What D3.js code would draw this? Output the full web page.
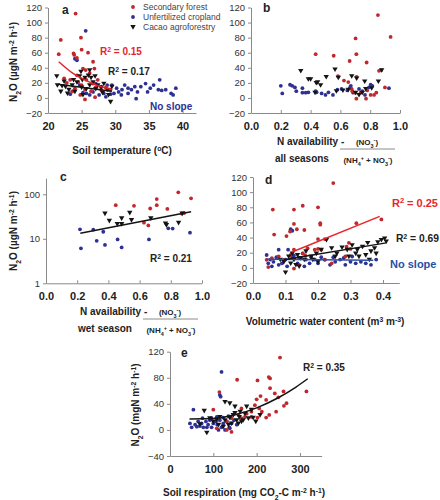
<!DOCTYPE html>
<html><head><meta charset="utf-8">
<script src="https://cdn.jsdelivr.net/npm/d3@7"></script>
<style>body{margin:0;background:#fff}svg{display:block;font-family:"Liberation Sans",Arial,sans-serif}</style>
</head><body><svg id="c" width="440" height="500"></svg>
<script>
// ---------- data ----------
const seriesNames = ["Secondary forest", "Unfertilized cropland", "Cacao agroforestry"];

// panel a: soil temperature (°C) vs N2O
const aForest = [[24.1,112],[21.9,77],[21.6,58],[24.9,80],[25.0,64],[25.95,60],[23.8,59],[23.9,57],[26.7,48],[24.3,53],[25.2,39],[25.6,37],[26.2,33],[26.9,39],[22.4,26],[22.8,20],[23.3,24],[24.3,30],[24.5,21],[25.0,17],[25.7,24],[26.7,19],[27.4,24],[24.0,13],[25.5,11],[26.4,9],[27.1,14],[27.9,11],[28.6,14],[29.3,11],[25.5,-2],[27.0,1],[23.6,8.5],[24.8,4]];
const aCrop = [[25.6,89],[24.3,50],[24.0,52],[24.7,17],[25.7,6],[26.7,8],[27.1,19],[27.9,15],[28.3,6],[28.8,17],[29.0,11],[29.5,17],[29.8,6],[30.2,13],[30.5,8],[31.0,11],[31.4,17],[31.9,6],[32.4,11],[32.9,15],[33.1,-1],[33.3,8],[33.8,15],[34.5,19],[34.8,8],[35.2,13],[35.7,17],[36.6,24],[36.4,11],[36.9,10],[37.5,11],[38.3,6],[38.6,4],[39.0,13],[25.2,7],[26.2,4],[27.6,4],[28.6,1.5],[29.3,5],[23.3,5],[31.9,13],[30.9,4]];
const aCacao = [[21.3,29],[21.4,17],[22.1,16],[21.9,8.5],[22.6,15],[23.1,11],[23.6,17],[23.8,24],[24.3,21],[24.7,29],[24.9,35],[25.1,24],[25.5,27],[26.0,30],[26.2,37],[26.4,27],[26.7,21],[27.0,29],[27.4,17],[27.9,14],[28.3,19],[28.8,11],[29.3,-5],[29.5,15],[24.0,8.5],[22.9,6],[25.7,12],[27.1,12],[28.1,7],[22.4,22],[25.0,14],[26.2,17],[29.0,4],[25.2,4]];
const aForestFit = [[21.6,48],[23.5,34],[25.5,24],[27.5,16],[29.5,11]];
const aCacaoFit = [[21.5,18],[29.5,9]];
const aXTicks = [20,25,30,35,40];
const aYTicks = [-20,0,20,40,60,80,100,120];

// panel b: N availability (all seasons) vs N2O
const bForest = [[0.434,58],[0.555,56],[0.662,49],[0.702,79],[0.707,58],[0.776,47],[0.852,110],[0.937,81],[0.874,37],[0.859,36],[0.584,29],[0.624,23],[0.653,21],[0.709,28],[0.676,12],[0.70,7],[0.707,-1],[0.772,-1],[0.803,4],[0.826,4],[0.841,7],[0.899,14],[0.78,10],[0.68,9],[0.736,7]];
const bCrop = [[0.2,16],[0.21,6],[0.262,17.5],[0.277,16],[0.295,14],[0.304,9],[0.345,13],[0.345,7],[0.367,7],[0.385,7.5],[0.434,9],[0.44,7.5],[0.474,6],[0.5,4],[0.52,7.5],[0.55,4],[0.58,11],[0.608,12],[0.647,10],[0.665,14],[0.685,7],[0.725,12],[0.747,9],[0.765,4],[0.792,14],[0.803,17.5],[0.814,16],[0.926,13],[0.67,16]];
const bCacao = [[0.334,36],[0.385,25],[0.40,25],[0.438,20],[0.447,21],[0.505,28],[0.564,38],[0.586,27],[0.653,11],[0.676,29],[0.709,26],[0.763,22],[0.81,13],[0.855,22],[0.877,37],[0.467,17],[0.77,12],[0.747,7],[0.725,4],[0.702,7],[0.617,10],[0.573,9],[0.43,7]];
const bXTicks = [0,0.2,0.4,0.6,0.8,1.0];

// panel c: N availability (wet season) vs N2O (log)
const cForest = [[0.447,57],[0.564,55],[0.668,48],[0.71,78],[0.71,57],[0.778,47],[0.848,111],[0.93,81],[0.87,37],[0.885,38],[0.628,23],[0.656,20]];
const cCrop = [[0.218,16.3],[0.224,6.1],[0.303,16],[0.325,9],[0.367,14.4],[0.378,7.3],[0.459,9.7],[0.485,6.4],[0.66,9.7],[0.784,17.2],[0.812,17],[0.923,13.7]];
const cCacao = [[0.378,37],[0.406,25.5],[0.457,21.5],[0.485,29],[0.485,21.5],[0.537,38.6],[0.548,26.5],[0.672,29],[0.766,22.3],[0.772,20.5],[0.85,23],[0.873,37]];
const cAllFit = [[0.22,13.3],[0.93,40.7]];
const cYTicks = [1,10,100];

// panel d: volumetric water content vs N2O
const dForest = [[0.061,77],[0.126,77],[0.247,112],[0.153,82],[0.2,80],[0.207,59],[0.207,57],[0.126,58],[0.114,48],[0.135,51],[0.158,50],[0.065,44],[0.103,42],[0.221,38],[0.2,38],[0.318,59],[0.295,33],[0.288,28],[0.395,64],[0.30,25],[0.168,26],[0.19,24],[0.2,25],[0.21,24],[0.153,19],[0.126,24],[0.116,17],[0.079,15],[0.042,10.6],[0.058,12.8],[0.095,10.6],[0.047,1],[0.221,10.6],[0.242,6],[0.284,15],[0.142,4],[0.126,-1],[0.161,16]];
const dCrop = [[0.042,17],[0.047,6],[0.053,11],[0.063,8],[0.072,14],[0.079,24],[0.089,6],[0.1,11],[0.108,24],[0.121,14],[0.137,6],[0.153,19],[0.163,11],[0.174,6],[0.19,11],[0.2,6],[0.221,11],[0.237,4],[0.253,8],[0.268,11],[0.284,4],[0.3,8],[0.316,6],[0.332,8],[0.347,6],[0.363,4],[0.379,11],[0.116,51],[0.121,49],[0.126,16],[0.142,13],[0.079,4],[0.058,2],[0.105,2],[0.179,14],[0.21,14],[0.247,14],[0.279,13],[0.305,15],[0.158,2]];
const dCacao = [[0.1,-6],[0.084,11],[0.11,15],[0.121,19],[0.137,17],[0.147,13],[0.163,22],[0.179,15],[0.195,19],[0.21,24],[0.226,37],[0.242,26],[0.258,19],[0.274,27],[0.29,24],[0.305,30],[0.321,24],[0.337,28],[0.353,33],[0.363,22],[0.374,26],[0.384,34],[0.395,37],[0.405,39],[0.41,35],[0.379,19],[0.347,17],[0.326,15],[0.095,8],[0.126,11],[0.132,4],[0.158,11],[0.184,11],[0.253,15],[0.295,15],[0.316,19],[0.358,11],[0.116,6],[0.142,2],[0.2,8]];
const dForestFit = [[0.12,21],[0.39,68]];
const dCacaoFit = [[0.095,10.6],[0.41,33]];
const dCropFit = [[0.042,11.5],[0.37,10]];
const dXTicks = [0,0.1,0.2,0.3,0.4];

// panel e: soil respiration vs N2O
const eForest = [[254,111],[155,77],[202,76],[228,81],[231,79],[114,58],[231,64],[242,56],[262,59],[250,50],[209,52],[222,46],[200,47],[269,41],[263,37],[315,59],[245,28],[229,23],[212,28],[196,38],[206,33],[188,20],[202,19],[222,19],[177,25],[142,18],[131,13],[100,31],[108,2.5],[142,-3],[131,0],[158,23],[165,18],[173,20],[188,28],[165,33]];
const eCrop = [[119,89],[115,53.6],[117,51],[54,31],[46,10],[50,4],[58,8],[62,5],[69,6],[73,10],[77,4],[83,13],[88,8],[92,15],[96,4],[100,10],[106,13],[109,8],[115,15],[119,4],[123,10],[127,0],[131,13],[137,4],[142,10],[148,15],[154,8],[96,18],[108,20],[85,4],[65,13],[75,18],[123,19],[135,21],[112,0],[138,2.5]];
const eCacao = [[79,29.5],[85,-4],[127,43],[138,41],[150,36],[162,28],[173,25],[177,36],[188,31],[198,13],[208,23],[115,20],[127,15],[138,19],[146,23],[154,15],[165,13],[112,8],[123,5],[135,8],[142,10],[158,10],[169,15],[100,13],[108,16],[92,18],[69,9],[150,26],[160,20],[181,18],[192,19]];
const eAllFit = [[45,16.8],[100,17.4],[150,23.2],[200,33.9],[250,49.4],[290,65.4],[318,78.5]];
const eXTicks = [0,100,200,300];
const eYTicks = [-40,0,40,80,120];

// ---------- drawing ----------
const RED = "#c1272d", BLUE = "#2e3192", BLACK = "#141414";
const svg = d3.select("#c");
svg.append("rect").attr("width",440).attr("height",500).attr("fill","#fff");

function rich(g, x, y, parts, o) {
  const t = g.append("text").attr("x", x).attr("y", y)
    .attr("font-size", o.size).attr("font-weight", o.weight || "bold")
    .attr("fill", o.fill || "#222").attr("text-anchor", o.anchor || "start");
  if (o.rotate) t.attr("transform", `rotate(-90,${x},${y})`);
  parts.forEach(p => {
    const s = t.append("tspan").text(p[0]);
    if (p[1] === "sup") s.attr("baseline-shift", "super").attr("font-size", o.size * 0.68);
    if (p[1] === "sub") s.attr("baseline-shift", "sub").attr("font-size", o.size * 0.68);
  });
  return t;
}

const tri = "M-2.7,-1.9L2.7,-1.9L0,2.7Z";

function panel(cfg) {
  const g = svg.append("g");
  const x = d3.scaleLinear().domain(cfg.xDom).range(cfg.xRange);
  const y = (cfg.log ? d3.scaleLog() : d3.scaleLinear()).domain(cfg.yDom).range(cfg.yRange);
  const xa = d3.axisBottom(x).tickValues(cfg.xTicks).tickFormat(cfg.xFmt)
    .tickSizeInner(-3).tickSizeOuter(0).tickPadding(9);
  const gx = g.append("g").attr("transform", `translate(0,${cfg.yRange[0]})`).call(xa);
  gx.selectAll("text").attr("font-size", 11).attr("font-weight", "bold").attr("fill", "#222")
    .attr("font-family", "Liberation Sans, Arial, sans-serif");
  const ya = d3.axisLeft(y).tickValues(cfg.yTicks).tickFormat(cfg.yFmt || d3.format("d"))
    .tickSizeInner(3).tickSizeOuter(0).tickPadding(3);
  const gy = g.append("g").attr("transform", `translate(${cfg.xRange[0]},0)`).call(ya);
  gy.selectAll("text").attr("font-size", 9.5).attr("fill", "#333")
    .attr("font-family", "Liberation Sans, Arial, sans-serif");
  [gx, gy].forEach(a => {
    a.select(".domain").attr("stroke", "#8a8a8a");
    a.selectAll(".tick line").attr("stroke", "#8a8a8a");
  });
  const pts = (data, color) => g.append("g").selectAll("circle").data(data).join("circle")
    .attr("cx", d => x(d[0])).attr("cy", d => y(d[1])).attr("r", 1.9).attr("fill", color);
  const tris = (data) => g.append("g").selectAll("path").data(data).join("path")
    .attr("d", tri).attr("transform", d => `translate(${x(d[0])},${y(d[1])})`).attr("fill", BLACK);
  pts(cfg.crop, BLUE);
  pts(cfg.forest, RED);
  tris(cfg.cacao);
  (cfg.fits || []).forEach(f => {
    const line = d3.line().x(d => x(d[0])).y(d => y(d[1])).curve(d3.curveMonotoneX);
    g.append("path").datum(f.data).attr("d", line).attr("fill", "none")
      .attr("stroke", f.color).attr("stroke-width", 1.5);
  });
  return g;
}

const fmt1 = d3.format(".1f");

panel({xDom:[20,42], xRange:[48,196], yDom:[-20,120], yRange:[113,7.5],
  xTicks:aXTicks, xFmt:d3.format("d"), yTicks:aYTicks,
  forest:aForest, crop:aCrop, cacao:aCacao,
  fits:[{data:aForestFit, color:"#e3262b"},{data:aCacaoFit, color:BLACK}]});
panel({xDom:[0,1], xRange:[251,400], yDom:[-20,120], yRange:[113,7.5],
  xTicks:bXTicks, xFmt:fmt1, yTicks:aYTicks,
  forest:bForest, crop:bCrop, cacao:bCacao, fits:[]});
panel({xDom:[0,1], xRange:[46,202], yDom:[1,230], yRange:[283.3,178.2], log:true,
  xTicks:bXTicks, xFmt:fmt1, yTicks:cYTicks, yFmt:d3.format("d"),
  forest:cForest, crop:cCrop, cacao:cCacao, fits:[{data:cAllFit, color:BLACK}]});
panel({xDom:[0,0.45], xRange:[253,399.25], yDom:[-20,120], yRange:[283,177],
  xTicks:dXTicks, xFmt:fmt1, yTicks:aYTicks,
  forest:dForest, crop:dCrop, cacao:dCacao,
  fits:[{data:dCropFit, color:"#2b4fa2"},{data:dCacaoFit, color:BLACK},{data:dForestFit, color:"#e8262b"}]});
panel({xDom:[0,350], xRange:[170,321.6], yDom:[-40,120], yRange:[456,351.7],
  xTicks:eXTicks, xFmt:d3.format("d"), yTicks:eYTicks,
  forest:eForest, crop:eCrop, cacao:eCacao, fits:[{data:eAllFit, color:BLACK}]});

// panel letters
[["a",62,14],["b",263,12],["c",60,181],["d",265,184],["e",181,357]].forEach(l =>
  svg.append("text").attr("x",l[1]).attr("y",l[2]).attr("font-size",12).attr("font-weight","bold")
    .attr("fill","#222").text(l[0]));

// legend
const legColors = [RED, BLUE, BLACK];
seriesNames.forEach((n, i) => {
  const yy = 7 + i * 10;
  if (i < 2) svg.append("circle").attr("cx",133).attr("cy",yy).attr("r",1.9).attr("fill",legColors[i]);
  else svg.append("path").attr("d",tri).attr("transform",`translate(133,${yy})`).attr("fill",BLACK);
  svg.append("text").attr("x",143).attr("y",yy+3).attr("font-size",8.5).attr("fill","#444").text(n);
});

// y titles
const n2oParts = [["N"],["2","sub"],["O (µgN m"],["-2","sup"],[" h"],["-1","sup"],[")"]];
rich(svg, 17, 62, n2oParts, {size:10, anchor:"middle", rotate:true});
rich(svg, 17, 231, n2oParts, {size:10, anchor:"middle", rotate:true});
rich(svg, 139, 405, [["N"],["2","sub"],["O (mgN m"],["-2","sup"],[" h"],["-1","sup"],[")"]], {size:10, anchor:"middle", rotate:true});

// x titles
rich(svg, 122, 154, [["Soil temperature ("],["o","sup"],["C)"]], {size:10, anchor:"middle"});
rich(svg, 325, 325, [["Volumetric water content (m"],["3","sup"],[" m"],["-3","sup"],[")"]], {size:10, anchor:"middle"});
rich(svg, 244, 496, [["Soil respiration (mg CO"],["2","sub"],["-C m"],["-2","sup"],[" h"],["-1","sup"],[")"]], {size:10, anchor:"middle"});

// N availability fractions
function fraction(x0, y0, lower) {
  rich(svg, x0, y0, [["N availability -"]], {size:10});
  rich(svg, x0 + 90, y0, [["(NO"],["3","sub"],["-","sup"],[")"]], {size:8, anchor:"middle"});
  svg.append("line").attr("x1", x0 + 63).attr("x2", x0 + 118).attr("y1", y0 + 4).attr("y2", y0 + 4)
    .attr("stroke", "#8a8a8a").attr("stroke-width", 1);
  rich(svg, x0 - 2, y0 + 17, [[lower]], {size:10});
  rich(svg, x0 + 91, y0 + 18, [["(NH"],["4","sub"],["+","sup"],[" + NO"],["3","sub"],["-","sup"],[")"]], {size:8, anchor:"middle"});
}
fraction(277, 145, "all seasons");
fraction(80, 315, "wet season");

// R² annotations
const r2 = (x, y, val, size, fill, anchor) => rich(svg, x, y, [["R"],["2","sup"],[" = " + val]], {size, fill, anchor});
r2(100, 55, "0.15", 10, "#e3262b");
r2(108, 75, "0.17", 10, "#222");
rich(svg, 150, 110, [["No slope"]], {size:10, fill:"#2e3192"});
r2(150, 262, "0.21", 10, "#222");
r2(438, 207, "0.25", 11, "#e8262b", "end");
r2(439, 242, "0.69", 10.3, "#222", "end");
rich(svg, 390, 268, [["No slope"]], {size:11, fill:"#2452a4"});
r2(303, 371, "0.35", 10, "#222");
</script></body></html>
